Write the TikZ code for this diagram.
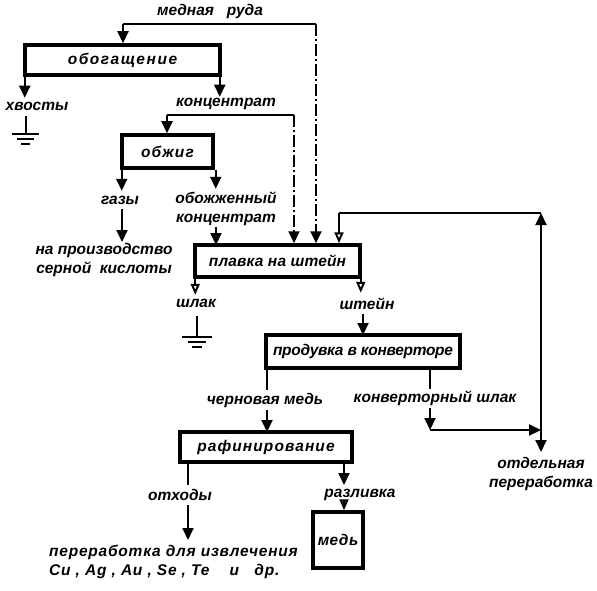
\documentclass[tikz,border=0pt]{standalone}
\usepackage{fontspec}
\setmainfont{Liberation Sans}
\usetikzlibrary{arrows.meta}
\tikzset{
  lbl/.style={font=\fontsize{15.5}{19}\selectfont\bfseries\itshape, inner sep=1pt, align=center},
  boxn/.style={draw, line width=3.5pt, inner sep=0pt},
  bf/.style={font=\fontsize{15.5}{19}\selectfont\bfseries\itshape\addfontfeatures{LetterSpace=#1}},
  conn/.style={line width=2pt},
  arr/.style={conn, -{Triangle[length=12pt,width=11pt]}},
  oarr/.style={conn, -{Triangle[open,length=11pt,width=9pt]}},
  dashdot/.style={dash pattern=on 12pt off 3pt on 2pt off 3pt},
}
\begin{document}
\begin{tikzpicture}[x=1pt,y=-1pt]
\useasboundingbox (0,0) rectangle (597,591);

% nodes
\node[lbl] (ore) at (210,11) {медная\ \ \ руда};
\node[boxn, bf=10, minimum width=195pt, minimum height=30pt] (enr) at (122.5,60) {обогащение};
\node[lbl] (tails) at (37,106) {хвосты};
\node[lbl] (conc) at (226,104) {концентрат};
\node[boxn, bf=8, minimum width=91pt, minimum height=33pt] (roast) at (167.5,151.5) {обжиг};
\node[lbl] (gases) at (120,200) {газы};
\node[lbl] (acid) at (104,260) {на производство\\серной\ \ кислоты};
\node[lbl] (rconc) at (226,209) {обожженный\\концентрат};
\node[boxn, bf=1, minimum width=165pt, minimum height=32pt] (smelt) at (277.5,261) {плавка на штейн};
\node[lbl] (slag) at (196,303) {шлак};
\node[lbl] (matte) at (367,304) {штейн};
\node[boxn, bf=-2, minimum width=194pt, minimum height=33pt] (conv) at (363,351.5) {продувка в конверторе};
\node[lbl] (blister) at (265,400) {черновая медь};
\node[lbl] (cslag) at (435,398) {конверторный шлак};
\node[boxn, bf=7, minimum width=172pt, minimum height=30pt] (refine) at (266,447) {рафинирование};
\node[lbl] (waste) at (180,495) {отходы};
\node[lbl] (cast) at (360,495) {разливка};
\node[boxn, bf=3, minimum width=50pt, minimum height=56pt] (copper) at (338,540) {медь};
\node[lbl, bf=5, anchor=west, align=left] (proc) at (48,562) {переработка для извлечения\\Cu\ ,\ Ag\ ,\ Au\ ,\ Se\ ,\ Te\ \ \ \ и\ \ \ др.};
\node[lbl] (sep) at (541,474) {отдельная\\переработка};

% coordinates
\coordinate (oreR) at (316,24);
\coordinate (oreL) at (123,24);
\coordinate (cR) at (294,115);
\coordinate (cL) at (167,115);
\coordinate (fbL) at (339,213);
\coordinate (fbR) at (541,213);
\coordinate (csl) at (430,430);
\coordinate (csr) at (541,430);

% ore
\draw[conn] (oreR) -- (oreL);
\draw[arr] (oreL) -- (oreL |- enr.north);
\draw[arr, dashdot] (oreR) -- (oreR |- smelt.north);

% enrichment outputs
\draw[arr] (enr.south west) ++(1.5,0) -- ++(0,21);
\draw[arr] (enr.south east) ++(-2,0) -- ++(0,20);

% ground under tails
\draw[conn] (26,116) -- (26,134);
\draw[conn] (12,134) -- (39,134);
\draw[conn] (17,139) -- (34,139);
\draw[conn] (21,144) -- (30,144);

% concentrate
\draw[conn] (cR) -- (cL);
\draw[arr] (cL) -- (cL |- roast.north);
\draw[arr, dashdot] (cR) -- (cR |- smelt.north);

% roasting outputs
\draw[arr] (roast.south west) ++(1.5,0) -- ++(0,21);
\draw[arr] (roast.south east) ++(1,0) -- ++(0,19);
\draw[arr] (gases.south -| 122,0) ++(0,4) -- (122,242);
\draw[arr] (rconc.south -| 216,0) -- (216 ,245);

% feedback
\draw[conn] (fbR) -- (fbL);
\draw[oarr] (fbL) -- (fbL |- smelt.north);
\draw[conn, {Triangle[length=12pt,width=11pt]}-{Triangle[length=12pt,width=11pt]}] (fbR) -- (541,452);

% smelt outputs
\draw[oarr] (smelt.south west) ++(2,0) -- ++(0,16);
\draw[oarr] (smelt.south east) ++(-1,0) -- ++(0,14);
\draw[conn] (197,316) -- (197,337);
\draw[conn] (182,337) -- (212,337);
\draw[conn] (188,342) -- (206,342);
\draw[conn] (192,347) -- (202,347);
\draw[arr] (matte.south -| 363,0) ++(0,3) -- (363,335);

% converter outputs
\draw[conn] (conv.south -| 267,0) -- (267,390);
\draw[arr] (267,410) -- (267,432);
\draw[conn] (conv.south -| 430,0) -- (430,389);
\draw[arr] (430,408) -- (csl);
\draw[arr] (csl) -- (csr);

% refining outputs
\draw[conn] (refine.south -| 188,0) -- (188,485);
\draw[arr] (188,505) -- (188,540);
\draw[arr] (refine.south -| 344,0) -- (344,485);
\draw[oarr] (344,505) -- (copper.north -| 344,0);
\end{tikzpicture}
\end{document}
